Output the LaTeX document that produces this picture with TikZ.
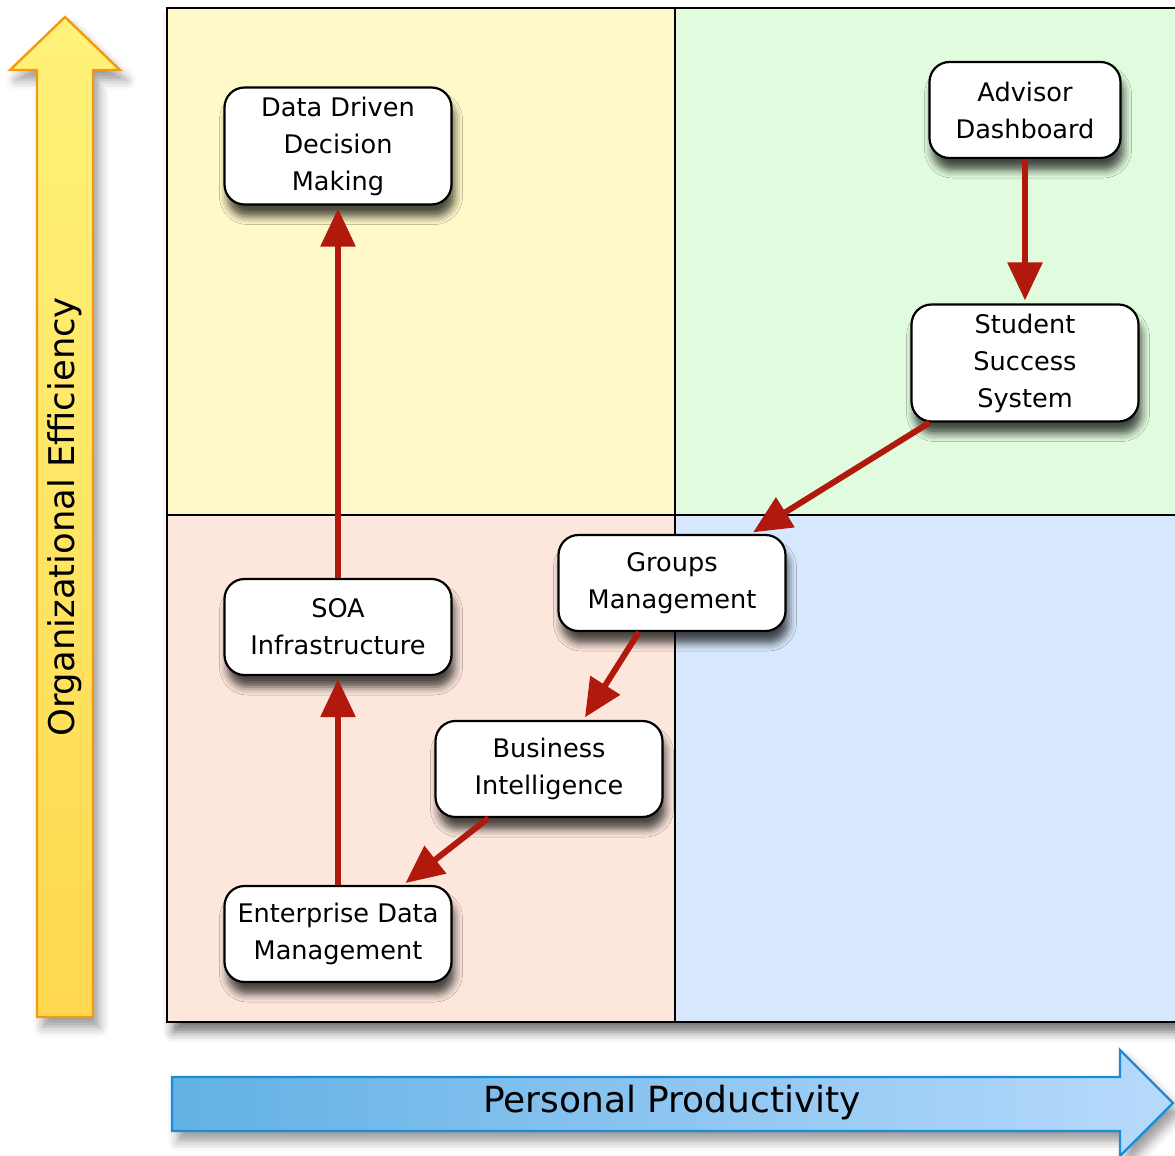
\documentclass[tikz,border=0pt]{standalone}
\usepackage{fontspec}
\setmainfont{DejaVu Sans}
\usetikzlibrary{arrows.meta,shadows,shadows.blur}

\definecolor{quadyellow}{HTML}{FFF9C9}
\definecolor{quadgreen}{HTML}{E0FBDD}
\definecolor{quadpink}{HTML}{FDE6DC}
\definecolor{quadblue}{HTML}{D7E7FD}
\definecolor{flowred}{HTML}{B2190D}
\definecolor{axisorange}{HTML}{F39A0E}
\definecolor{axisblue}{HTML}{1A8CD8}
\definecolor{topyellow}{HTML}{FFF27A}
\definecolor{bottomyellow}{HTML}{FFD84F}
\definecolor{leftblue}{HTML}{62B1E5}
\definecolor{rightblue}{HTML}{B8DAFC}

\tikzset{
  box/.style={draw, line width=1.1pt, rounded corners=10pt, fill=white, align=center,
    inner sep=2pt, font=\fontsize{12.8pt}{18.5pt}\selectfont,
    blur shadow={shadow xshift=1.5pt, shadow yshift=-6pt, shadow blur radius=4pt, shadow opacity=70}},
  flow/.style={draw=flowred, line width=3pt, -{Triangle[length=19pt,width=17pt]}, shorten >=1.5pt}
}

\begin{document}
\begin{tikzpicture}[x=0.5pt, y=-0.5pt]
    \useasboundingbox (0,0) rectangle (1175,1156);
    % quadrants
    \fill[blur shadow={shadow xshift=3pt, shadow yshift=-5pt, shadow blur radius=5pt, shadow opacity=55}, white] (167,8) rectangle (1185,1022);
    \fill[quadyellow] (167,8) rectangle (675,515);
    \fill[quadgreen] (675,8) rectangle (1185,515);
    \fill[quadpink] (167,515) rectangle (675,1022);
    \fill[quadblue] (675,515) rectangle (1185,1022);
    \draw[line width=0.9pt] (675,8) -- (675,1022) (167,515) -- (1185,515);
    \draw[line width=1.4pt] (1185,8) -- (167,8) -- (167,1022) -- (1185,1022);

    % axes
    \shade[top color=topyellow, bottom color=bottomyellow, draw=axisorange, line width=1.2pt,
      blur shadow={shadow xshift=3pt, shadow yshift=-5pt, shadow blur radius=5pt, shadow opacity=40}]
      (37,1017) -- (37,70) -- (10,70) -- (65,17) -- (120,70) -- (93,70) -- (93,1017) -- cycle;
    \shade[left color=leftblue, right color=rightblue, draw=axisblue, line width=1.2pt,
      blur shadow={shadow xshift=3pt, shadow yshift=-5pt, shadow blur radius=5pt, shadow opacity=40}]
      (172,1077) -- (1120,1077) -- (1120,1050) -- (1173,1103) -- (1120,1156) -- (1120,1131) -- (172,1131) -- cycle;
    \node[rotate=90, font=\fontsize{17.7pt}{20pt}\selectfont] (ylabel) at (65,517) {Organizational Efficiency};
    \node[font=\fontsize{18pt}{22pt}\selectfont] (xlabel) at (672,1103) {Personal Productivity};

    % boxes
    \node[box, minimum width=113.5pt, minimum height=58.5pt] (ddd) at (338,146) {Data Driven\\Decision\\Making};
    \node[box, minimum width=95.5pt, minimum height=48pt] (adv) at (1025,110) {Advisor\\Dashboard};
    \node[box, minimum width=113.5pt, minimum height=58.5pt] (sss) at (1025,363) {Student\\Success\\System};
    \node[box, minimum width=113.5pt, minimum height=48pt] (grp) at (672,583) {Groups\\Management};
    \node[box, minimum width=113.5pt, minimum height=48pt] (soa) at (338,627) {SOA\\Infrastructure};
    \node[box, minimum width=113.5pt, minimum height=48pt] (bi) at (549,769) {Business\\Intelligence};
    \node[box, minimum width=113.5pt, minimum height=48pt] (edm) at (338,934) {Enterprise Data\\Management};

    % flows
    \draw[flow] (soa) -- (ddd);
    \draw[flow] (adv) -- (sss);
    \draw[flow] (sss.212) -- (grp.32);
    \draw[flow] (grp.236) -- (bi.55);
    \draw[flow] (bi.219) -- (edm.37);
    \draw[flow] (edm) -- (soa);
\end{tikzpicture}
\end{document}
